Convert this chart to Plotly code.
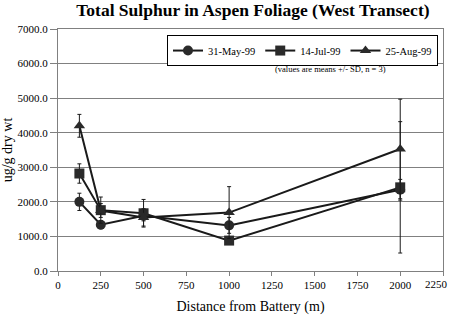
import plotly.graph_objects as go

distance = [125, 250, 500, 1000, 2000]
may_vals = [2000, 1340, 1600, 1320, 2350]
may_sd = [250, 120, 150, 230, 300]
jul_vals = [2820, 1760, 1670, 880, 2420]
jul_sd = [280, 380, 400, 100, 1900]
aug_vals = [4200, 1750, 1550, 1690, 3530]
aug_sd = [330, 200, 250, 750, 1440]

x_ticks = [0, 250, 500, 750, 1000, 1250, 1500, 1750, 2000, 2250]
y_ticks = [0, 1000, 2000, 3000, 4000, 5000, 6000, 7000]

series = [
    ("31-May-99", may_vals, may_sd, "circle"),
    ("14-Jul-99", jul_vals, jul_sd, "square"),
    ("25-Aug-99", aug_vals, aug_sd, "triangle-up"),
]

fig = go.Figure()
for name, vals, sd, sym in series:
    fig.add_trace(go.Scatter(
        x=distance, y=vals, name=name, mode="lines+markers",
        line=dict(color="#1a1a1a", width=2),
        marker=dict(symbol=sym, size=10, color="#2a2a2a"),
        error_y=dict(type="data", array=sd, visible=True, color="#1a1a1a", thickness=1, width=2),
    ))

font_family = "Liberation Serif"
x_text = [str(v) for v in x_ticks[:-1]] + [""]

fig.update_layout(
    width=450, height=322,
    margin=dict(l=56, r=6, t=29, b=51),
    paper_bgcolor="white", plot_bgcolor="white",
    font=dict(family=font_family, size=11, color="black"),
    title=dict(text="<b>Total Sulphur in Aspen Foliage (West Transect)</b>",
               x=0.562, xanchor="center", y=0.988, yanchor="top",
               font=dict(size=17.5, family=font_family)),
    showlegend=True,
    legend=dict(orientation="h", x=0.987, xanchor="right", y=0.975, yanchor="top",
                bordercolor="black", borderwidth=1, bgcolor="white",
                font=dict(size=10.5, family=font_family), itemwidth=30,
                tracegroupgap=0),
    xaxis=dict(range=[0, 2250], tickvals=x_ticks, ticktext=x_text,
               tickfont=dict(family=font_family, size=11),
               showgrid=False, zeroline=False, showline=True, linecolor="#808080", mirror=True,
               ticks="outside", ticklen=4, tickcolor="#808080",
               title=dict(text="Distance from Battery (m)", font=dict(size=14), standoff=10)),
    yaxis=dict(range=[0, 7000], tickvals=y_ticks,
               tickfont=dict(family=font_family, size=11),
               tickformat=".1f", showgrid=True, gridcolor="#808080", gridwidth=1,
               zeroline=False, showline=True, linecolor="#808080", mirror=True,
               ticks="outside", ticklen=7, tickcolor="#808080",
               title=dict(text="ug/g dry wt", font=dict(size=14), standoff=2)),
    annotations=[
        dict(text="(values are means +/- SD, n = 3)", x=0.709, y=0.836,
             xref="paper", yref="paper", showarrow=False, xanchor="center", yanchor="middle",
             font=dict(size=8.5, family=font_family)),
        dict(text=str(x_ticks[-1]), x=x_ticks[-1], y=0, xref="x", yref="paper",
             yanchor="top", xanchor="center", xshift=-7, yshift=-5, showarrow=False,
             font=dict(size=11, family=font_family)),
    ],
)

fig.write_html("out.html")
